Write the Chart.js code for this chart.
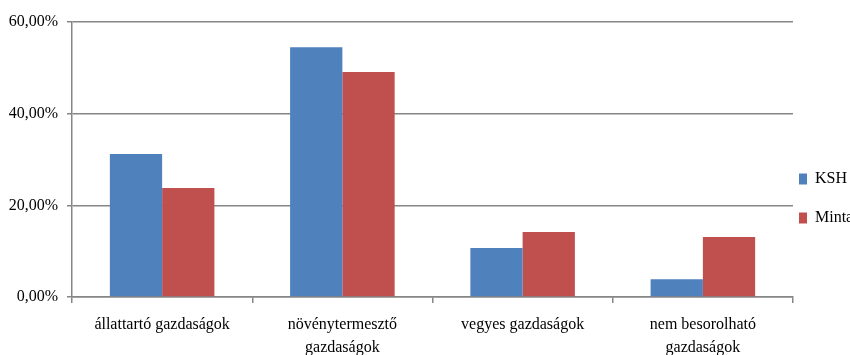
<!DOCTYPE html>
<html>
<head>
<meta charset="utf-8">
<script src="https://cdn.jsdelivr.net/npm/chart.js@4"></script>
<style>
  html, body { margin: 0; padding: 0; background: #fff; }
  #wrap { width: 850px; height: 355px; }
</style>
</head>
<body>
<div id="wrap"><canvas id="chart" width="850" height="355"></canvas></div>
<script>
// Categories (x axis), split into lines as in the original
const categories = [
  ['állattartó gazdaságok'],
  ['növénytermesztő', 'gazdaságok'],
  ['vegyes gazdaságok'],
  ['nem besorolható', 'gazdaságok'],
];

// Series values in percent
const kshValues = [31.2, 54.5, 10.7, 3.9];
const mintaValues = [23.8, 49.1, 14.2, 13.1];

// Y axis tick values
const yTicks = [0, 20, 40, 60];

const gridColor = '#868686';
const textFont = { family: '"Liberation Serif", "Times New Roman", serif', size: 16 };

function formatPercent(v) {
  return v.toFixed(2).replace('.', ',') + '%';
}

// nudge the legend a bit left and down, closer to the plot like in the original
const legendNudge = {
  id: 'legendNudge',
  afterLayout(chart) {
    const lg = chart.legend;
    lg.left -= 17;
    lg.top += 20;
  },
};

const ctx = document.getElementById('chart').getContext('2d');
new Chart(ctx, {
  type: 'bar',
  data: {
    labels: categories,
    datasets: [
      { label: 'KSH', data: kshValues, backgroundColor: '#4F81BD' },
      { label: 'Minta', data: mintaValues, backgroundColor: '#C0504D' },
    ],
  },
  options: {
    responsive: false,
    animation: false,
    layout: { padding: { top: 22, right: 0, left: 0, bottom: 0 } },
    datasets: {
      bar: { categoryPercentage: 0.58, barPercentage: 1.0 },
    },
    plugins: {
      tooltip: { enabled: false },
      legend: {
        position: 'right',
        maxWidth: 57,
        labels: {
          boxWidth: 8,
          boxHeight: 11,
          padding: 23,
          color: '#000',
          font: textFont,
        },
      },
    },
    scales: {
      x: {
        grid: {
          drawOnChartArea: false,
          drawTicks: true,
          tickLength: 6,
          color: gridColor,
          lineWidth: 1.5,
        },
        border: { color: gridColor, width: 1.5 },
        ticks: { color: '#000', font: { ...textFont, lineHeight: 1.4 }, padding: 11, maxRotation: 0 },
        afterFit: scale => { scale.height = 58; },
      },
      y: {
        min: 0,
        max: 60,
        afterBuildTicks: scale => { scale.ticks = yTicks.map(v => ({ value: v })); },
        grid: {
          color: gridColor,
          lineWidth: 1.5,
          tickLength: 5,
        },
        border: { color: gridColor, width: 1.5 },
        ticks: {
          color: '#000',
          font: textFont,
          padding: 9,
          callback: v => formatPercent(v),
        },
        afterFit: scale => { scale.width = 72; },
      },
    },
  },
  plugins: [legendNudge],
});
</script>
</body>
</html>
